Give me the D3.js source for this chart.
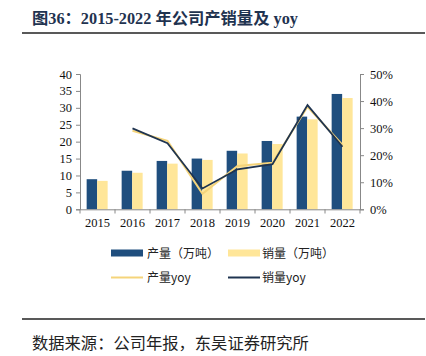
<!DOCTYPE html>
<html><head><meta charset="utf-8">
<script src="https://cdn.jsdelivr.net/npm/d3@7"></script>
<style>
body{margin:0;background:#fff;}
svg{display:block;}
</style></head>
<body>
<svg id="c" width="426" height="356"></svg>
<script>
const years = ["2015","2016","2017","2018","2019","2020","2021","2022"];
const production = [8.9, 11.4, 14.3, 15.0, 17.3, 20.2, 27.4, 34.1];
const sales = [8.4, 10.8, 13.5, 14.6, 16.5, 19.3, 26.6, 32.9];
const productionYoy = [null, 29.0, 25.3, 5.7, 16.0, 17.2, 37.9, 23.8];
const salesYoy = [null, 29.9, 24.4, 7.7, 14.8, 16.7, 38.5, 23.1];
const leftTicks = [0,5,10,15,20,25,30,35,40];
const rightTicks = [0,10,20,30,40,50];

const svg = d3.select("#c");
const serif = "'Liberation Serif','Times New Roman',serif";
const cjk = "'Noto Sans CJK SC',sans-serif";
const navy = "#1f4e7e", yellow = "#ffe699", lineDark = "#1f3450", lineLight = "#f5d47a";

// title
svg.append("text").attr("x",32).attr("y",24)
  .attr("font-size",16.3).attr("font-weight","bold").attr("fill","#1f3350")
  .style("font-family","'Liberation Serif','Noto Sans CJK SC',serif")
  .text("图36：2015-2022 年公司产销量及 yoy");
svg.append("line").attr("x1",22).attr("x2",425).attr("y1",33).attr("y2",33)
  .attr("stroke","#222").attr("stroke-width",1.6);

const x = d3.scaleBand().domain(years).range([80,360]);
const y = d3.scaleLinear().domain([0,40]).range([209.3,74]);
const y2 = d3.scaleLinear().domain([0,50]).range([209.3,74]);
const bw = x.bandwidth();

// bars
const g = svg.append("g");
g.selectAll(".p").data(years).enter().append("rect")
  .attr("x",d=>x(d)+bw*0.19).attr("width",bw*0.3)
  .attr("y",(d,i)=>y(production[i])).attr("height",(d,i)=>y(0)-y(production[i]))
  .attr("fill",navy);
g.selectAll(".s").data(years).enter().append("rect")
  .attr("x",d=>x(d)+bw*0.49).attr("width",bw*0.3)
  .attr("y",(d,i)=>y(sales[i])).attr("height",(d,i)=>y(0)-y(sales[i]))
  .attr("fill",yellow);

// axes
const axisColor = "#888";
const la = svg.append("g").attr("transform","translate(80,0)")
  .call(d3.axisLeft(y).tickValues(leftTicks).tickSize(4).tickPadding(4));
const ra = svg.append("g").attr("transform","translate(360,0)")
  .call(d3.axisRight(y2).tickValues(rightTicks).tickSize(4).tickPadding(6).tickFormat(d=>d+"%"));
const xa = svg.append("g").attr("transform","translate(0,209.3)")
  .call(d3.axisBottom(x).tickSize(0).tickPadding(9));
[la,ra,xa].forEach(a=>{
  a.select(".domain").attr("stroke",axisColor);
  a.selectAll(".tick line").attr("stroke",axisColor);
  a.selectAll("text").attr("font-size",12.5).attr("fill","#111").style("font-family",serif);
});
// category boundary ticks
svg.append("g").selectAll("line").data(years.concat(["end"])).enter().append("line")
  .attr("x1",(d,i)=>80+i*bw).attr("x2",(d,i)=>80+i*bw)
  .attr("y1",209.3).attr("y2",213.5).attr("stroke",axisColor);

// lines
const line = d3.line().defined(d=>d[1]!=null)
  .x(d=>x(d[0])+bw/2).y(d=>y2(d[1]));
svg.append("path").datum(years.map((d,i)=>[d,productionYoy[i]]))
  .attr("d",line).attr("fill","none").attr("stroke",lineLight).attr("stroke-width",2);
svg.append("path").datum(years.map((d,i)=>[d,salesYoy[i]]))
  .attr("d",line).attr("fill","none").attr("stroke",lineDark).attr("stroke-width",1.8);

// legend
const lg = svg.append("g").style("font-family",cjk).attr("font-size",12).attr("fill","#222");
lg.append("rect").attr("x",111).attr("y",249.5).attr("width",32).attr("height",7).attr("fill",navy);
lg.append("text").attr("x",147).attr("y",257.5).text("产量（万吨）");
lg.append("rect").attr("x",228).attr("y",249.5).attr("width",32).attr("height",7).attr("fill",yellow);
lg.append("text").attr("x",262).attr("y",257.5).text("销量（万吨）");
lg.append("line").attr("x1",111).attr("x2",143).attr("y1",277.5).attr("y2",277.5).attr("stroke",lineLight).attr("stroke-width",2);
lg.append("text").attr("x",147).attr("y",282).text("产量yoy");
lg.append("line").attr("x1",228).attr("x2",260).attr("y1",277.5).attr("y2",277.5).attr("stroke",lineDark).attr("stroke-width",2);
lg.append("text").attr("x",262).attr("y",282).text("销量yoy");

// footer
svg.append("line").attr("x1",22).attr("x2",425).attr("y1",319).attr("y2",319)
  .attr("stroke","#222").attr("stroke-width",1.4);
svg.append("text").attr("x",32).attr("y",349).attr("font-size",16.3).attr("fill","#222")
  .style("font-family",cjk).text("数据来源：公司年报，东吴证券研究所");
</script>
</body></html>
